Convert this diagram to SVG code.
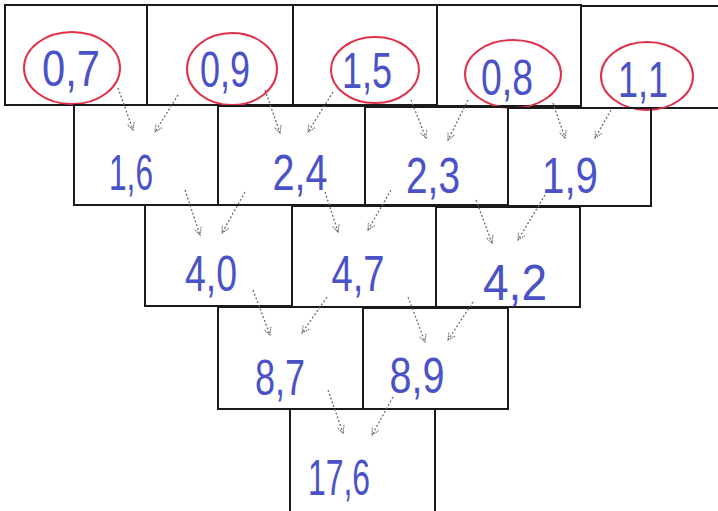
<svg xmlns="http://www.w3.org/2000/svg" width="718" height="511" viewBox="0 0 718 511">
<style>
.cell{fill:none;stroke:#1a1a1a;stroke-width:2}
.num{font-family:"Liberation Sans",Arial,sans-serif;font-size:50px;fill:#4a52c8;text-anchor:middle}
.ring{fill:none;stroke:#e0304a;stroke-width:2}
.arr{fill:none;stroke:#6b6b6b;stroke-width:1.3;stroke-dasharray:2 2;marker-end:url(#ah)}
</style>
<defs>
<marker id="ah" viewBox="0 0 10 10" refX="9" refY="5" markerWidth="9" markerHeight="9" orient="auto" markerUnits="userSpaceOnUse">
<path d="M1,1 L9,5 L1,9" fill="none" stroke="#6b6b6b" stroke-width="1.3" stroke-dasharray="1.5 1"/>
</marker>
</defs>
<rect width="718" height="511" fill="#ffffff"/>

<g id="r1c1"><rect class="cell" x="5" y="5" width="142" height="100"/><ellipse class="ring" cx="72" cy="68" rx="48" ry="36"/><text class="num" x="71" y="86" textLength="58" lengthAdjust="spacingAndGlyphs">0,7</text></g>
<g id="r1c2"><rect class="cell" x="147" y="5" width="146" height="100"/><ellipse class="ring" cx="232" cy="69" rx="45" ry="36"/><text class="num" x="225" y="87" textLength="50" lengthAdjust="spacingAndGlyphs">0,9</text></g>
<g id="r1c3"><rect class="cell" x="293" y="5" width="144" height="100"/><ellipse class="ring" cx="375" cy="70" rx="44" ry="33"/><text class="num" x="367" y="88" textLength="50" lengthAdjust="spacingAndGlyphs">1,5</text></g>
<g id="r1c4"><rect class="cell" x="437" y="5" width="144" height="101"/><ellipse class="ring" cx="513" cy="74" rx="48" ry="34"/><text class="num" x="507" y="95" textLength="52" lengthAdjust="spacingAndGlyphs">0,8</text></g>
<g id="r1c5"><rect class="cell" x="581" y="6" width="140" height="102"/><ellipse class="ring" cx="647" cy="76" rx="46" ry="34"/><text class="num" x="643" y="97" textLength="50" lengthAdjust="spacingAndGlyphs">1,1</text></g>

<g id="r2c1"><rect class="cell" x="74" y="105" width="144" height="100"/><text class="num" x="131" y="190" textLength="44" lengthAdjust="spacingAndGlyphs">1,6</text></g>
<g id="r2c2"><rect class="cell" x="218" y="106" width="147" height="99"/><text class="num" x="300" y="190" textLength="55" lengthAdjust="spacingAndGlyphs">2,4</text></g>
<g id="r2c3"><rect class="cell" x="365" y="107" width="143" height="98"/><text class="num" x="433" y="193" textLength="54" lengthAdjust="spacingAndGlyphs">2,3</text></g>
<g id="r2c4"><rect class="cell" x="508" y="108" width="143" height="98"/><text class="num" x="570" y="193" textLength="56" lengthAdjust="spacingAndGlyphs">1,9</text></g>

<g id="r3c1"><rect class="cell" x="145" y="205" width="147" height="101"/><text class="num" x="211" y="291" textLength="52" lengthAdjust="spacingAndGlyphs">4,0</text></g>
<g id="r3c2"><rect class="cell" x="292" y="206" width="144" height="101"/><text class="num" x="358" y="291" textLength="53" lengthAdjust="spacingAndGlyphs">4,7</text></g>
<g id="r3c3"><rect class="cell" x="436" y="207" width="144" height="100"/><text class="num" x="515" y="300" textLength="64" lengthAdjust="spacingAndGlyphs">4,2</text></g>

<g id="r4c1"><rect class="cell" x="218" y="307" width="145" height="102"/><text class="num" x="280" y="395" textLength="50" lengthAdjust="spacingAndGlyphs">8,7</text></g>
<g id="r4c2"><rect class="cell" x="363" y="308" width="145" height="101"/><text class="num" x="417" y="393" textLength="55" lengthAdjust="spacingAndGlyphs">8,9</text></g>

<g id="r5c1"><rect class="cell" x="290" y="409" width="145" height="106"/><text class="num" x="339" y="495" textLength="62" lengthAdjust="spacingAndGlyphs">17,6</text></g>

<g id="connectors">
<path class="arr" d="M118,88 L133,130"/>
<path class="arr" d="M178,95 L155,132"/>
<path class="arr" d="M265,90 L280,133"/>
<path class="arr" d="M333,92 L308,132"/>
<path class="arr" d="M411,100 L426,138"/>
<path class="arr" d="M468,100 L448,140"/>
<path class="arr" d="M553,103 L565,138"/>
<path class="arr" d="M611,110 L595,138"/>
<path class="arr" d="M185,190 L200,235"/>
<path class="arr" d="M245,192 L222,233"/>
<path class="arr" d="M325,192 L338,232"/>
<path class="arr" d="M391,190 L368,230"/>
<path class="arr" d="M476,200 L492,243"/>
<path class="arr" d="M545,195 L518,240"/>
<path class="arr" d="M253,290 L270,335"/>
<path class="arr" d="M327,297 L302,333"/>
<path class="arr" d="M408,297 L425,342"/>
<path class="arr" d="M473,302 L448,340"/>
<path class="arr" d="M328,390 L343,433"/>
<path class="arr" d="M393,397 L372,435"/>
</g>
</svg>
